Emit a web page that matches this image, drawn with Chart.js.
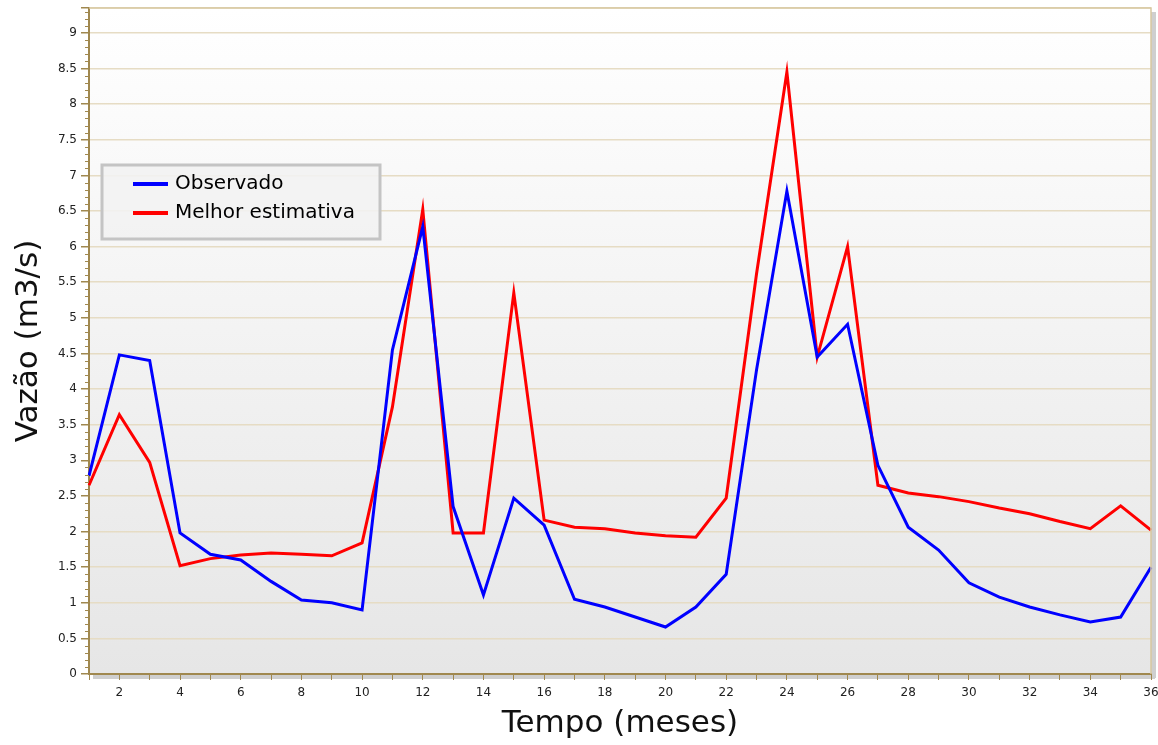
<!DOCTYPE html>
<html>
<head>
<meta charset="utf-8">
<script src="https://cdn.jsdelivr.net/npm/chart.js@4"></script>
<style>
  html, body { margin: 0; padding: 0; background: #fff; }
  #wrap { width: 1158px; height: 745px; }
</style>
</head>
<body>
<div id="wrap"><canvas id="myChart" width="1158" height="745"></canvas></div>
<script>
let meses = [];
for (let i = 1; i <= 36; i++) meses.push(i);

let observado = [2.78,4.48,4.4,1.98,1.68,1.6,1.3,1.04,1.0,0.9,4.55,6.28,2.35,1.11,2.47,2.09,1.05,0.94,0.8,0.66,
  0.94,1.4,4.27,6.78,4.45,4.91,2.93,2.06,1.74,1.28,1.08,0.94,0.83,0.73,0.8,1.5];
let estimativa = [2.65,3.64,2.97,1.52,1.62,1.67,1.7,1.68,1.66,1.84,3.75,6.52,1.98,1.98,5.35,2.16,2.06,2.04,1.98,1.94,
  1.92,2.47,5.62,8.45,4.45,6.0,2.65,2.54,2.49,2.42,2.33,2.25,2.14,2.04,2.36,2.02];

let nomes = ['Observado','Melhor estimativa'];
let cores = ['#0000ff','#ff0000'];

let axisBrown = '#a0884f';
let gridTan = '#e6dcc4';

// fundo em degradê, sombra e ticks menores
let fundo = {
  id:'fundo',
  beforeDraw(chart){
    let c = chart.ctx, a = chart.chartArea;
    c.save();
    c.fillStyle = '#cfcfcf';
    c.fillRect(a.right, a.top + 4, 5, a.bottom - a.top);
    c.fillRect(a.left + 4, a.bottom, a.right - a.left, 5);
    let g = c.createLinearGradient(0, a.top, 0, a.bottom);
    g.addColorStop(0, '#ffffff');
    g.addColorStop(1, '#e6e6e6');
    c.fillStyle = g;
    c.fillRect(a.left, a.top, a.right - a.left, a.bottom - a.top);
    c.restore();
  },
  afterDraw(chart){
    let c = chart.ctx, a = chart.chartArea, y = chart.scales.y;
    c.save();
    // borda do topo e da direita
    c.strokeStyle = '#d8c8a0';
    c.lineWidth = 1.5;
    c.beginPath();
    c.moveTo(a.left, a.top); c.lineTo(a.right, a.top); c.lineTo(a.right, a.bottom);
    c.stroke();
    // ticks menores no eixo y
    c.strokeStyle = axisBrown;
    c.lineWidth = 1;
    for (let k = 1; k <= 93; k++) {
      if (k % 5 === 0) continue;
      let py = Math.round(y.getPixelForValue(k / 10)) + 0.5;
      c.beginPath();
      c.moveTo(a.left - 4, py); c.lineTo(a.left, py);
      c.stroke();
    }
    // legenda
    let bx = 102, by = 165, bw = 278, bh = 74;
    c.fillStyle = 'rgba(242,242,242,0.9)';
    c.fillRect(bx, by, bw, bh);
    c.strokeStyle = '#c4c4c4';
    c.lineWidth = 3;
    c.strokeRect(bx, by, bw, bh);
    c.font = '20px "DejaVu Sans"';
    c.textBaseline = 'middle';
    chart.data.datasets.forEach((ds, i) => {
      let ly = 184 + i * 29;
      c.strokeStyle = ds.borderColor;
      c.lineWidth = 4;
      c.beginPath();
      c.moveTo(133, ly); c.lineTo(168, ly);
      c.stroke();
      c.fillStyle = '#000';
      c.fillText(ds.label, 175, ly);
    });
    c.restore();
  }
};

let myChart = document.getElementById('myChart').getContext('2d');
let chart = new Chart(myChart, {
  type:'line',
  data:{
    labels:meses,
    datasets:[{
      label:nomes[0],
      data:observado,
      borderColor:cores[0],
      borderWidth:3,
      pointRadius:0,
      tension:0
    },
    {
      label:nomes[1],
      data:estimativa,
      borderColor:cores[1],
      borderWidth:3,
      pointRadius:0,
      tension:0
    }]
  },
  options:{
    responsive:false,
    animation:false,
    layout:{ padding:{ top:8, right:7, left:0, bottom:0 } },
    plugins:{
      legend:{ display:false },
      tooltip:{ enabled:false }
    },
    scales:{
      x:{
        offset:false,
        grid:{
          display:true,
          drawOnChartArea:false,
          color:axisBrown,
          tickLength:6
        },
        border:{ color:axisBrown, width:2 },
        ticks:{
          autoSkip:false,
          maxRotation:0,
          padding:6,
          color:'#222',
          font:{ family:'DejaVu Sans', size:12 },
          callback:function(v, i){ return meses[i] % 2 === 0 ? meses[i] : ''; }
        },
        title:{
          display:true,
          text:'Tempo (meses)',
          color:'#111',
          font:{ family:'DejaVu Sans', size:31 },
          padding:{ top:0, bottom:2 }
        },
        afterFit:function(s){ s.height = 71; s.paddingLeft = 0; s.paddingRight = 0; }
      },
      y:{
        min:0,
        max:9.35,
        grid:{
          color:function(ctx){ return ctx.tick && ctx.tick.value > 0 ? gridTan : 'rgba(0,0,0,0)'; },
          tickColor:axisBrown,
          tickLength:8,
          lineWidth:1.5
        },
        border:{ color:axisBrown, width:2 },
        ticks:{
          stepSize:0.5,
          padding:4,
          color:'#222',
          font:{ family:'DejaVu Sans', size:12 },
          callback:function(v){ return Number.isInteger(v * 2) && v <= 9 ? String(v) : ''; }
        },
        title:{
          display:true,
          text:'Vazão (m3/s)',
          color:'#111',
          font:{ family:'DejaVu Sans', size:31 },
          padding:{ top:10, bottom:0 }
        },
        afterFit:function(s){ s.width = 89; s.paddingTop = 0; s.paddingBottom = 0; }
      }
    }
  },
  plugins:[fundo]
});
</script>
</body>
</html>
